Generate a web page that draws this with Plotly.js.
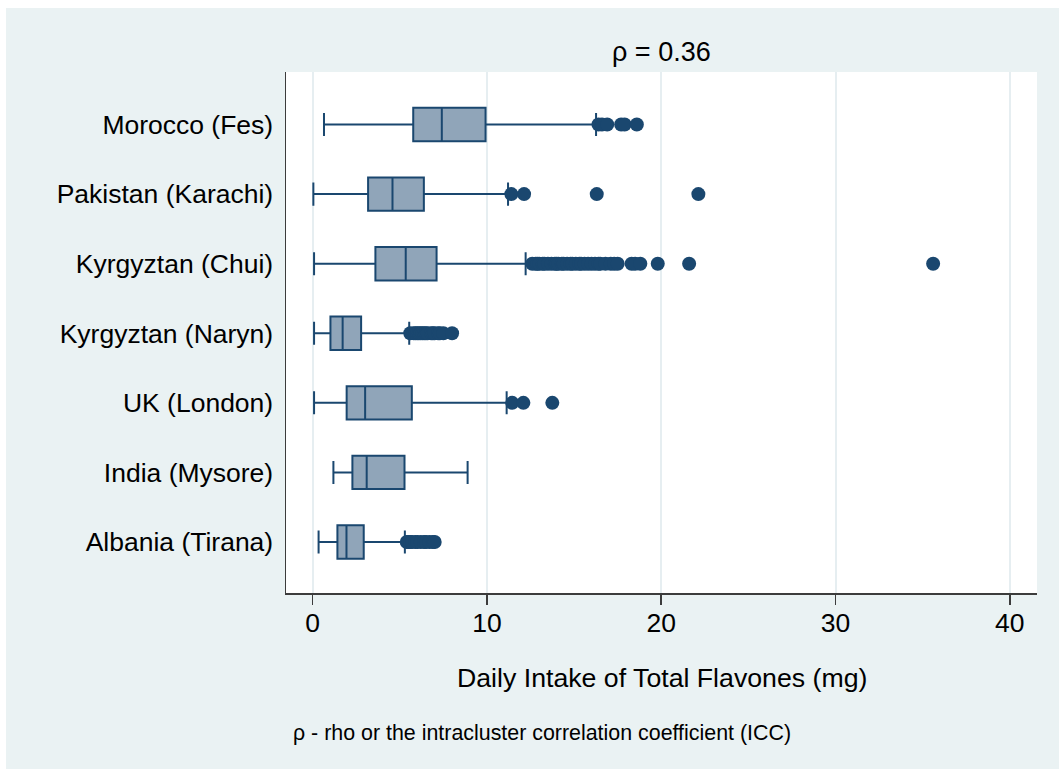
<!DOCTYPE html>
<html>
<head>
<meta charset="utf-8">
<script src="https://cdn.plot.ly/plotly-3.0.1.min.js"></script>
<style>
  html, body { margin: 0; padding: 0; background: #ffffff; }
  #chart { position: absolute; left: 6px; top: 8px; width: 1053px; height: 761px; }
</style>
</head>
<body>
<div id="chart"></div>
<script>
// Study centres, bottom to top
const centres = [
  'Albania (Tirana)',
  'India (Mysore)',
  'UK (London)',
  'Kyrgyztan (Naryn)',
  'Kyrgyztan (Chui)',
  'Pakistan (Karachi)',
  'Morocco (Fes)'
];

// Box statistics of daily flavone intake (mg), same order as centres
const lowerWhisker = [0.34, 1.19, 0.08, 0.08, 0.08, 0.04, 0.65];
const quartile1    = [1.42, 2.28, 1.95, 1.02, 3.60, 3.18, 5.77];
const medianVal    = [1.94, 3.10, 3.01, 1.72, 5.34, 4.58, 7.41];
const quartile3    = [2.93, 5.27, 5.69, 2.78, 7.11, 6.38, 9.92];
const upperWhisker = [5.29, 8.89, 11.13, 5.54, 12.22, 11.21, 16.26];

// Outlying observations per centre
const outAlbania = [5.4, 5.5, 5.6, 5.7, 5.9, 6.0, 6.2, 6.4, 6.5, 6.7, 6.9, 7.0];
const outIndia = [];
const outUK = [11.45, 12.09, 13.75];
const outNaryn = [5.6, 5.8, 5.9, 6.0, 6.1, 6.2, 6.3, 6.4, 6.5, 6.6, 6.8, 6.9, 7.0, 7.2, 7.3, 7.5, 8.0];
const outChui = [12.6, 12.8, 12.9, 13.0, 13.2, 13.3, 13.5, 13.7, 13.9, 14.0, 14.1, 14.3, 14.4,
                 14.6, 14.8, 14.9, 15.1, 15.3, 15.4, 15.6, 15.8, 16.0, 16.2, 16.4, 16.5, 16.8,
                 17.1, 17.3, 17.5, 18.3, 18.5, 18.8, 19.8, 21.6, 35.6];
const outPakistan = [11.4, 12.13, 16.3, 22.13];
const outMorocco = [16.4, 16.6, 16.9, 17.7, 17.9, 18.6];

const xTicks = [0, 10, 20, 30, 40];

const titleText = 'ρ = 0.36';
const xTitleText = 'Daily Intake of Total Flavones (mg)';
const noteText = 'ρ - rho or the intracluster correlation coefficient (ICC)';

const navy = '#1a476f';
const boxFill = '#90a5b9';
const font = 'Liberation Sans, Arial, Helvetica, sans-serif';

const outlierGroups = [outAlbania, outIndia, outUK, outNaryn, outChui, outPakistan, outMorocco];
const outX = [], outY = [];
outlierGroups.forEach((vals, i) => {
  vals.forEach(v => { outX.push(v); outY.push(centres[i]); });
});

const boxes = {
  type: 'box',
  orientation: 'h',
  y: centres,
  lowerfence: lowerWhisker,
  q1: quartile1,
  median: medianVal,
  q3: quartile3,
  upperfence: upperWhisker,
  boxpoints: false,
  width: 0.48,
  whiskerwidth: 0.69,
  fillcolor: boxFill,
  line: { color: navy, width: 2 },
  hoverinfo: 'skip',
  showlegend: false
};

const outliers = {
  type: 'scatter',
  mode: 'markers',
  x: outX,
  y: outY,
  marker: { color: navy, size: 14, line: { width: 0 } },
  hoverinfo: 'skip',
  showlegend: false,
  cliponaxis: false
};

const layout = {
  width: 1053,
  height: 761,
  margin: { l: 280, r: 22, t: 64, b: 176 },
  paper_bgcolor: '#eaf2f3',
  plot_bgcolor: '#ffffff',
  font: { family: font, size: 26.5, color: '#000000' },
  showlegend: false,
  xaxis: {
    range: [-1.53, 41.56],
    tickvals: xTicks,
    ticktext: xTicks.map(String),
    ticks: 'outside',
    ticklen: 10,
    tickwidth: 1.5,
    tickcolor: '#3c3c3c',
    ticklabelstandoff: -4,
    showgrid: true,
    gridcolor: '#e6eef1',
    gridwidth: 2,
    zeroline: false,
    showline: true,
    linecolor: '#3c3c3c',
    linewidth: 1.5,
    tickfont: { family: font, size: 26.5, color: '#000000' },
    fixedrange: true
  },
  yaxis: {
    type: 'category',
    categoryorder: 'array',
    categoryarray: centres,
    range: [-0.733, 6.755],
    ticks: 'outside',
    ticklen: 6,
    tickcolor: 'rgba(0,0,0,0)',
    showgrid: false,
    zeroline: false,
    showline: true,
    linecolor: '#3c3c3c',
    linewidth: 1.5,
    tickfont: { family: font, size: 26.5, color: '#000000' },
    fixedrange: true
  },
  annotations: [
    {
      text: titleText, xref: 'paper', yref: 'paper', x: 0.5, y: 1.0384,
      xanchor: 'center', yanchor: 'middle', showarrow: false,
      font: { family: font, size: 27, color: '#000000' }
    },
    {
      text: xTitleText, xref: 'paper', yref: 'paper', x: 0.5, y: -0.163,
      xanchor: 'center', yanchor: 'middle', showarrow: false,
      font: { family: font, size: 26.7, color: '#000000' }
    },
    {
      text: noteText, xref: 'paper', yref: 'paper', x: 0.0067, y: -0.269,
      xanchor: 'left', yanchor: 'middle', showarrow: false,
      font: { family: font, size: 21.4, color: '#000000' }
    }
  ]
};

Plotly.newPlot('chart', [boxes, outliers], layout, { displayModeBar: false, staticPlot: true });
</script>
</body>
</html>
